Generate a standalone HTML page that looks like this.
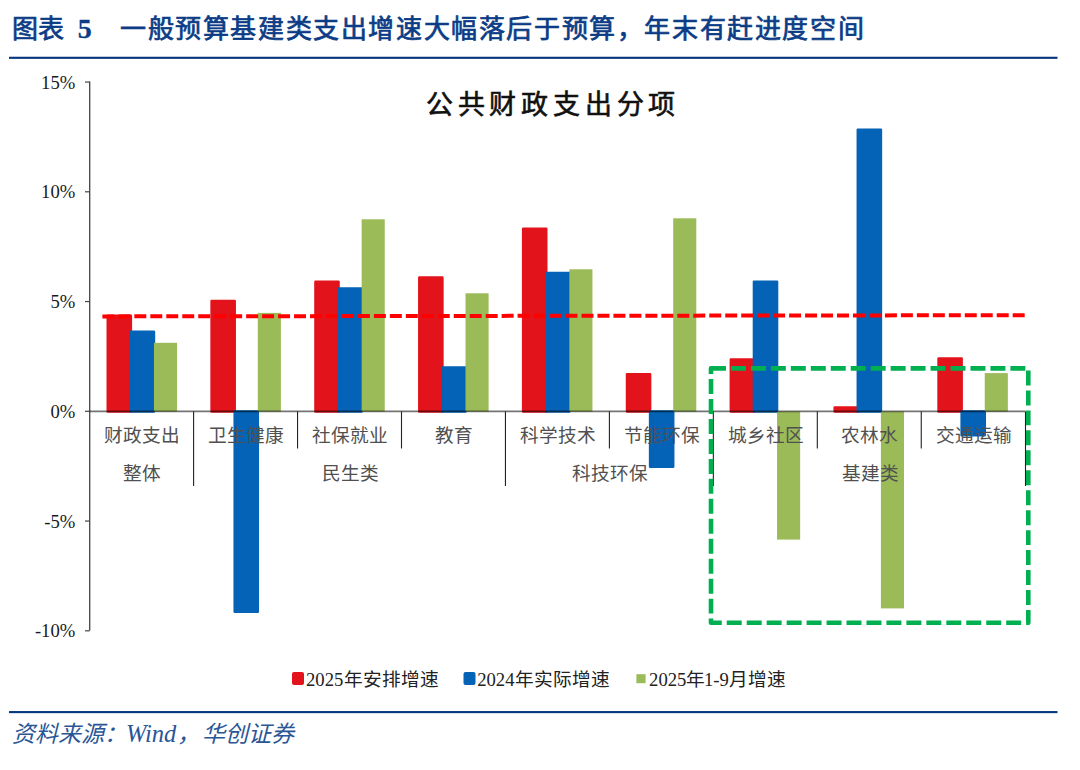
<!DOCTYPE html>
<html lang="zh-CN"><head><meta charset="utf-8">
<style>
html,body{margin:0;padding:0;background:#fff;}
body{width:1080px;height:770px;overflow:hidden;position:relative;font-family:"Liberation Serif",serif;}
svg{position:absolute;left:0;top:0;}
.num{font-family:"Liberation Serif",serif;font-size:18.67px;fill:#1a1a1a;}
.cat{font-family:"Liberation Serif",serif;font-size:18.67px;fill:#505050;}
.ttl{font-family:"Liberation Serif",serif;font-size:26px;fill:#0B3C85;stroke:#0B3C85;stroke-width:0.7px;}
.ttl5{font-family:"Liberation Serif",serif;font-size:28px;font-weight:bold;fill:#0B3C85;stroke:#0B3C85;stroke-width:0.3px;}
.ctl{font-family:"Liberation Serif",serif;font-size:27px;fill:#111;stroke:#111;stroke-width:0.6px;}
.leg{font-family:"Liberation Serif",serif;font-size:18.67px;fill:#222;}
.src{font-family:"Liberation Serif",serif;font-size:23px;font-style:italic;fill:#2A5696;}
</style></head>
<body>
<svg width="1080" height="770" viewBox="0 0 1080 770">
<text x="12" y="38" class="ttl">图表</text>
<text x="77.8" y="38.2" class="ttl5">5</text>
<text x="120" y="38" class="ttl" letter-spacing="1.6">一般预算基建类支出增速大幅落后于预算，年末有赶进度空间</text>
<rect x="9" y="56.75" width="1048.5" height="2.1" fill="#04357D"/>
<text x="553" y="114" text-anchor="middle" class="ctl" letter-spacing="4.8">公共财政支出分项</text>
<rect x="107.75" y="315.65" width="23.10" height="95.85" fill="#E3131B" stroke="#E3131B" stroke-width="2.5" stroke-linejoin="round"/>
<rect x="130.85" y="331.75" width="23.10" height="79.75" fill="#0463B7" stroke="#0463B7" stroke-width="2.5" stroke-linejoin="round"/>
<rect x="153.95" y="342.80" width="23.10" height="68.70" fill="#9BBB59"/>
<rect x="211.60" y="300.95" width="23.10" height="110.55" fill="#E3131B" stroke="#E3131B" stroke-width="2.5" stroke-linejoin="round"/>
<rect x="234.70" y="411.50" width="23.10" height="200.15" fill="#0463B7" stroke="#0463B7" stroke-width="2.5" stroke-linejoin="round"/>
<rect x="257.80" y="312.90" width="23.10" height="98.60" fill="#9BBB59"/>
<rect x="315.45" y="281.65" width="23.10" height="129.85" fill="#E3131B" stroke="#E3131B" stroke-width="2.5" stroke-linejoin="round"/>
<rect x="338.55" y="288.45" width="23.10" height="123.05" fill="#0463B7" stroke="#0463B7" stroke-width="2.5" stroke-linejoin="round"/>
<rect x="361.65" y="219.30" width="23.10" height="192.20" fill="#9BBB59"/>
<rect x="419.30" y="277.55" width="23.10" height="133.95" fill="#E3131B" stroke="#E3131B" stroke-width="2.5" stroke-linejoin="round"/>
<rect x="442.40" y="367.55" width="23.10" height="43.95" fill="#0463B7" stroke="#0463B7" stroke-width="2.5" stroke-linejoin="round"/>
<rect x="465.50" y="293.30" width="23.10" height="118.20" fill="#9BBB59"/>
<rect x="523.15" y="228.75" width="23.10" height="182.75" fill="#E3131B" stroke="#E3131B" stroke-width="2.5" stroke-linejoin="round"/>
<rect x="546.25" y="272.95" width="23.10" height="138.55" fill="#0463B7" stroke="#0463B7" stroke-width="2.5" stroke-linejoin="round"/>
<rect x="569.35" y="269.30" width="23.10" height="142.20" fill="#9BBB59"/>
<rect x="627.00" y="374.35" width="23.10" height="37.15" fill="#E3131B" stroke="#E3131B" stroke-width="2.5" stroke-linejoin="round"/>
<rect x="650.10" y="411.50" width="23.10" height="55.15" fill="#0463B7" stroke="#0463B7" stroke-width="2.5" stroke-linejoin="round"/>
<rect x="673.20" y="218.30" width="23.10" height="193.20" fill="#9BBB59"/>
<rect x="730.85" y="359.55" width="23.10" height="51.95" fill="#E3131B" stroke="#E3131B" stroke-width="2.5" stroke-linejoin="round"/>
<rect x="753.95" y="281.65" width="23.10" height="129.85" fill="#0463B7" stroke="#0463B7" stroke-width="2.5" stroke-linejoin="round"/>
<rect x="777.05" y="411.50" width="23.10" height="128.10" fill="#9BBB59"/>
<rect x="834.70" y="407.45" width="23.10" height="4.05" fill="#E3131B" stroke="#E3131B" stroke-width="2.5" stroke-linejoin="round"/>
<rect x="857.80" y="129.75" width="23.10" height="281.75" fill="#0463B7" stroke="#0463B7" stroke-width="2.5" stroke-linejoin="round"/>
<rect x="880.90" y="411.50" width="23.10" height="196.90" fill="#9BBB59"/>
<rect x="938.55" y="358.55" width="23.10" height="52.95" fill="#E3131B" stroke="#E3131B" stroke-width="2.5" stroke-linejoin="round"/>
<rect x="961.65" y="411.50" width="23.10" height="23.85" fill="#0463B7" stroke="#0463B7" stroke-width="2.5" stroke-linejoin="round"/>
<rect x="984.75" y="373.10" width="23.10" height="38.40" fill="#9BBB59"/>
<line x1="193.60" y1="411.5" x2="193.60" y2="486" stroke="#222" stroke-width="1.1"/>
<line x1="297.55" y1="411.5" x2="297.55" y2="448.5" stroke="#222" stroke-width="1.1"/>
<line x1="401.50" y1="411.5" x2="401.50" y2="448.5" stroke="#222" stroke-width="1.1"/>
<line x1="505.45" y1="411.5" x2="505.45" y2="486" stroke="#222" stroke-width="1.1"/>
<line x1="609.40" y1="411.5" x2="609.40" y2="448.5" stroke="#222" stroke-width="1.1"/>
<line x1="713.35" y1="411.5" x2="713.35" y2="486" stroke="#222" stroke-width="1.1"/>
<line x1="817.30" y1="411.5" x2="817.30" y2="448.5" stroke="#222" stroke-width="1.1"/>
<line x1="921.25" y1="411.5" x2="921.25" y2="448.5" stroke="#222" stroke-width="1.1"/>
<line x1="1025.50" y1="411.5" x2="1025.50" y2="486" stroke="#222" stroke-width="1.1"/>
<line x1="85" y1="82.05" x2="89.7" y2="82.05" stroke="#444" stroke-width="1.2"/>
<line x1="85" y1="191.80" x2="89.7" y2="191.80" stroke="#444" stroke-width="1.2"/>
<line x1="85" y1="301.55" x2="89.7" y2="301.55" stroke="#444" stroke-width="1.2"/>
<line x1="85" y1="411.30" x2="89.7" y2="411.30" stroke="#444" stroke-width="1.2"/>
<line x1="85" y1="521.05" x2="89.7" y2="521.05" stroke="#444" stroke-width="1.2"/>
<line x1="85" y1="630.80" x2="89.7" y2="630.80" stroke="#444" stroke-width="1.2"/>
<text x="75.3" y="88.65" text-anchor="end" class="num">15%</text>
<text x="75.3" y="198.40" text-anchor="end" class="num">10%</text>
<text x="75.3" y="308.15" text-anchor="end" class="num">5%</text>
<text x="75.3" y="417.90" text-anchor="end" class="num">0%</text>
<text x="75.3" y="527.65" text-anchor="end" class="num">-5%</text>
<text x="75.3" y="637.40" text-anchor="end" class="num">-10%</text>
<text x="142.20" y="442" text-anchor="middle" class="cat">财政支出</text>
<text x="246.15" y="442" text-anchor="middle" class="cat">卫生健康</text>
<text x="350.10" y="442" text-anchor="middle" class="cat">社保就业</text>
<text x="454.05" y="442" text-anchor="middle" class="cat">教育</text>
<text x="558.00" y="442" text-anchor="middle" class="cat">科学技术</text>
<text x="661.95" y="442" text-anchor="middle" class="cat">节能环保</text>
<text x="765.90" y="442" text-anchor="middle" class="cat">城乡社区</text>
<text x="869.85" y="442" text-anchor="middle" class="cat">农林水</text>
<text x="973.80" y="442" text-anchor="middle" class="cat">交通运输</text>
<text x="141.90" y="480" text-anchor="middle" class="cat">整体</text>
<text x="350.50" y="480" text-anchor="middle" class="cat">民生类</text>
<text x="610.00" y="480" text-anchor="middle" class="cat">科技环保</text>
<text x="870.00" y="480" text-anchor="middle" class="cat">基建类</text>
<line x1="89.7" y1="81.5" x2="89.7" y2="630.5" stroke="#444" stroke-width="1.3"/>
<line x1="89.7" y1="411.3" x2="1025.5" y2="411.3" stroke="#000" stroke-opacity="0.55" stroke-width="1.8"/>
<line x1="102.4" y1="316.4" x2="1024.8" y2="315.2" stroke="#FF0000" stroke-width="4" stroke-dasharray="11.98 3.99"/>
<rect x="711" y="368.4" width="317.3" height="254.4" fill="none" stroke="#00B050" stroke-width="4.6" stroke-dasharray="14.97 4.99" stroke-linejoin="round"/>
<rect x="292" y="672" width="12" height="13" rx="2" fill="#E3131B"/>
<text x="306" y="685.7" class="leg">2025</text><text x="343.5" y="685.7" class="leg">年安排增速</text>
<rect x="463.5" y="672" width="12" height="13" rx="2" fill="#0463B7"/>
<text x="477.2" y="685.7" class="leg">2024</text><text x="514.5" y="685.7" class="leg">年实际增速</text>
<rect x="636.4" y="674.2" width="9.2" height="9" fill="#9BBB59"/>
<text x="649.1" y="685.7" class="leg">2025</text><text x="686.4" y="685.7" class="leg">年</text><text x="704" y="685.7" class="leg">1-9</text><text x="729" y="685.7" class="leg">月增速</text>
<rect x="9" y="711.05" width="1048.5" height="2.1" fill="#04357D"/>
<text x="12" y="742" class="src">资料来源：</text><text x="126" y="742" class="src" style="font-size:24.5px">Wind</text><text x="176.5" y="742" class="src">，</text><text x="201.5" y="742" class="src">华创证券</text>
</svg>
</body></html>
